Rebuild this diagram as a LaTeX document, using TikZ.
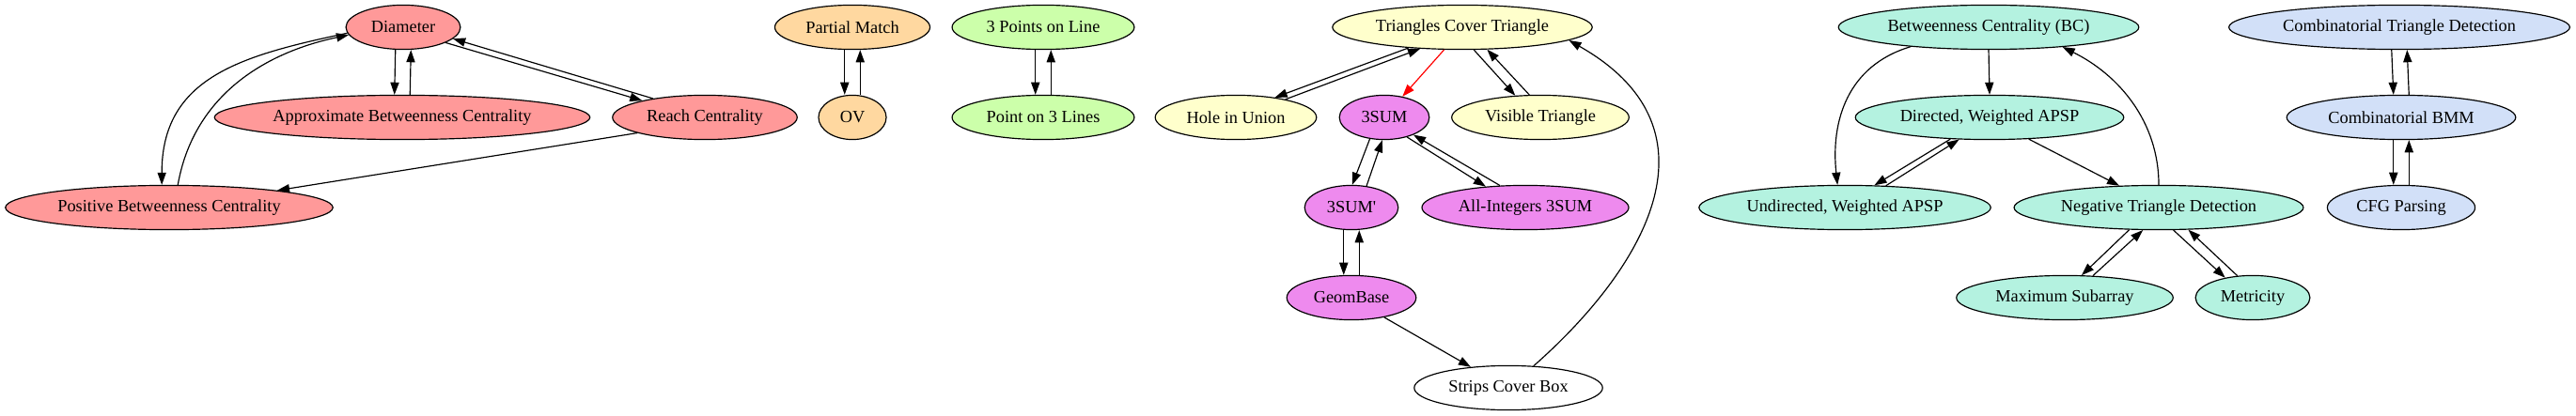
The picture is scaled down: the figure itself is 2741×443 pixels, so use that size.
\documentclass[tikz,border=0pt]{standalone}
\usepackage{fontspec}
\setmainfont{Liberation Serif}
\usepackage{xcolor}
\definecolor{grpred}{RGB}{255, 153, 153}
\definecolor{grporange}{RGB}{255, 216, 160}
\definecolor{grpgreen}{RGB}{204, 255, 170}
\definecolor{grpyellow}{RGB}{255, 255, 204}
\definecolor{grpviolet}{RGB}{238, 138, 238}
\definecolor{grpteal}{RGB}{180, 242, 224}
\definecolor{grpblue}{RGB}{210, 224, 248}
\usetikzlibrary{arrows.meta, shapes.geometric}

\begin{document}
\begin{tikzpicture}[
    x=0.7634pt, y=-0.7634pt,
    >={Triangle[length=10pt, width=7pt]},
    prob/.style={ellipse, draw, line width=0.9pt, inner sep=0pt, minimum height=36pt, font=\fontsize{14}{16}\selectfont},
    arrow/.style={->, line width=0.9pt}
]
\useasboundingbox (0, 0) rectangle (2741, 443);

% === Diameter ===
\node[prob, fill=grpred, minimum width=93pt] (diam) at (429, 29) {Diameter};
\node[prob, fill=grpred, minimum width=305pt] (abc) at (428, 125) {Approximate Betweenness Centrality};
\node[prob, fill=grpred, minimum width=150pt] (reach) at (750, 125) {Reach Centrality};
\node[prob, fill=grpred, minimum width=266pt] (pbc) at (180, 221) {Positive Betweenness Centrality};

% === OV ===
\node[prob, fill=grporange, minimum width=126pt] (pm) at (907, 29) {Partial Match};
\node[prob, fill=grporange, minimum width=55pt] (ov) at (907, 125) {OV};

% === Puntos y rectas ===
\node[prob, fill=grpgreen, minimum width=148pt] (tpl) at (1110, 29) {3 Points on Line};
\node[prob, fill=grpgreen, minimum width=148pt] (pol) at (1110, 125) {Point on 3 Lines};

% === 3SUM ===
\node[prob, fill=grpyellow, minimum width=211pt] (tct) at (1556, 29) {Triangles Cover Triangle};
\node[prob, fill=grpyellow, minimum width=131pt] (hiu) at (1315, 125) {Hole in Union};
\node[prob, fill=grpviolet, minimum width=73pt] (sum) at (1473, 125) {3SUM};
\node[prob, fill=grpyellow, minimum width=144pt] (vis) at (1639, 125) {Visible Triangle};
\node[prob, fill=grpviolet, minimum width=76pt] (sump) at (1438, 221) {3SUM\textquotesingle};
\node[prob, fill=grpviolet, minimum width=168pt] (allint) at (1623, 221) {All-Integers 3SUM};
\node[prob, fill=grpviolet, minimum width=105pt] (geom) at (1438, 317) {GeomBase};
\node[prob, fill=white, minimum width=153pt] (strips) at (1605, 413) {Strips Cover Box};

% === APSP ===
\node[prob, fill=grpteal, minimum width=244pt] (bc) at (2116, 29) {Betweenness Centrality (BC)};
\node[prob, fill=grpteal, minimum width=218pt] (dapsp) at (2117, 125) {Directed, Weighted APSP};
\node[prob, fill=grpteal, minimum width=237pt] (uapsp) at (1963, 221) {Undirected, Weighted APSP};
\node[prob, fill=grpteal, minimum width=235pt] (ntd) at (2297, 221) {Negative Triangle Detection};
\node[prob, fill=grpteal, minimum width=176pt] (maxsub) at (2197, 317) {Maximum Subarray};
\node[prob, fill=grpteal, minimum width=93pt] (metric) at (2397, 317) {Metricity};

% === BMM ===
\node[prob, fill=grpblue, minimum width=277pt] (ctd) at (2553, 29) {Combinatorial Triangle Detection};
\node[prob, fill=grpblue, minimum width=186pt] (cbmm) at (2555, 125) {Combinatorial BMM};
\node[prob, fill=grpblue, minimum width=120pt] (cfg) at (2555, 221) {CFG Parsing};

% === Flechas ===
% Diameter
\draw[arrow] (diam.186) to[out=192, in=90, looseness=1.15] (pbc.108);
\draw[arrow] (pbc.69) to[out=80, in=192] (diam.188);
\draw[arrow] ([xshift=-6.3pt]diam.south) -- ([xshift=-6.3pt]abc.north);
\draw[arrow] ([xshift=6.3pt]abc.north) -- ([xshift=6.3pt]diam.south);
\draw[arrow] (diam.-20) -- (reach.165);
\draw[arrow] (reach.160) -- (diam.-13);
\draw[arrow] (reach.193) -- (pbc.9);

% OV, rectas
\draw[arrow] ([xshift=-6.3pt]pm.south) -- ([xshift=-6.3pt]ov.north);
\draw[arrow] ([xshift=6.3pt]ov.north) -- ([xshift=6.3pt]pm.south);
\draw[arrow] ([xshift=-6.3pt]tpl.south) -- ([xshift=-6.3pt]pol.north);
\draw[arrow] ([xshift=6.3pt]pol.north) -- ([xshift=6.3pt]tpl.south);

% 3SUM
\draw[arrow] (tct.201) -- (hiu.27);
\draw[arrow] (hiu.20) -- (tct.207);
\draw[arrow, red] (tct.231) -- (sum.49);
\draw[arrow] (tct.297) -- (vis.139);
\draw[arrow] (vis.116) -- (tct.318);
\draw[arrow] (sum.236) -- (sump.88);
\draw[arrow] (sump.55) -- (sum.265);
\draw[arrow] (sum.319) -- (allint.152);
\draw[arrow] (allint.139) -- (sum.329);
\draw[arrow] ([xshift=-6.3pt]sump.south) -- ([xshift=-6.3pt]geom.north);
\draw[arrow] ([xshift=6.3pt]geom.north) -- ([xshift=6.3pt]sump.south);
\draw[arrow] (geom.329) -- (strips.151);
\draw[arrow] (strips.41) .. controls (1745, 290) and (1840, 140) .. (tct.353);

% APSP
\draw[arrow] (bc.south) -- (dapsp.north);
\draw[arrow] (bc.194) .. controls (1965, 70) and (1948, 130) .. (uapsp.108);
\draw[arrow] (dapsp.209) -- (uapsp.37);
\draw[arrow] (uapsp.28) -- (dapsp.216);
\draw[arrow] (dapsp.331) -- (ntd.151);
\draw[arrow] (ntd.north) .. controls (2297, 130) and (2255, 80) .. (bc.345);
\draw[arrow] (ntd.217) -- (maxsub.53);
\draw[arrow] (maxsub.38) -- (ntd.235);
\draw[arrow] (ntd.303) -- (metric.144);
\draw[arrow] (metric.125) -- (ntd.323);

% BMM
\draw[arrow] ([xshift=-6.3pt]ctd.south) -- ([xshift=-6.3pt]cbmm.north);
\draw[arrow] ([xshift=6.3pt]cbmm.north) -- ([xshift=6.3pt]ctd.south);
\draw[arrow] ([xshift=-6.3pt]cbmm.south) -- ([xshift=-6.3pt]cfg.north);
\draw[arrow] ([xshift=6.3pt]cfg.north) -- ([xshift=6.3pt]cbmm.south);

\end{tikzpicture}
\end{document}
